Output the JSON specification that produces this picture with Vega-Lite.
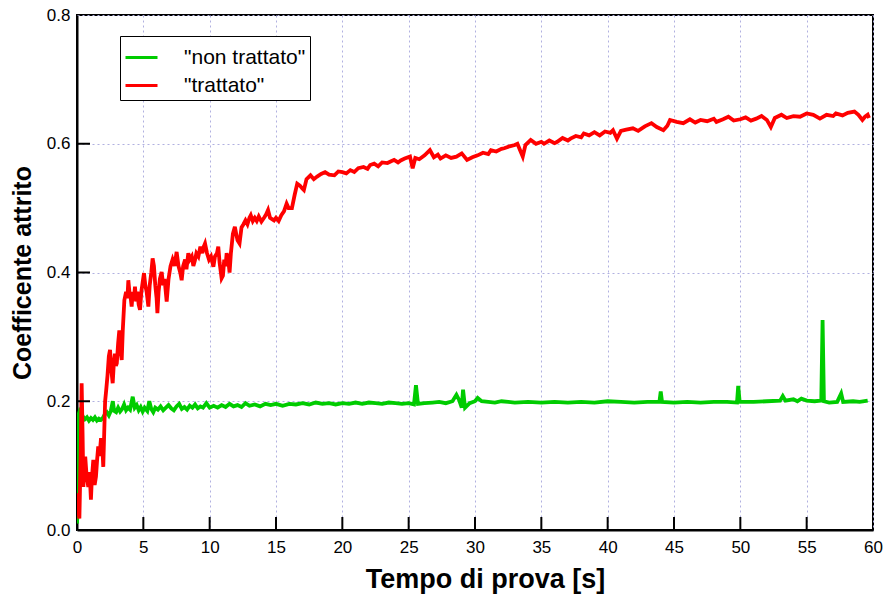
{
  "$schema": "https://vega.github.io/schema/vega-lite/v6.json",
  "autosize": {"type": "none"},
  "width": 796,
  "height": 515,
  "padding": {"left": 77, "top": 15, "right": 12, "bottom": 70},
  "background": "white",
  "config": {
    "font": "Liberation Sans",
    "view": {"stroke": "black", "strokeWidth": 2},
    "axis": {
      "domainColor": "black", "domainWidth": 2,
      "ticks": false, "tickSize": 0,
      "labelFont": "Liberation Sans", "labelFontSize": 17, "labelColor": "black",
      "titleFont": "Liberation Sans", "titleFontWeight": "bold", "titleColor": "black",
      "grid": true, "gridColor": "#b0b0e0", "gridDash": [2, 3], "gridWidth": 1
    }
  },
  "datasets": {
    "red": [
      {"t":0,"v":0.057},{"t":0.1,"v":0.03},{"t":0.18,"v":0.018},{"t":0.28,"v":0.12},{"t":0.35,"v":0.228},{"t":0.42,"v":0.15},{"t":0.48,"v":0.067},{"t":0.55,"v":0.1},{"t":0.62,"v":0.114},{"t":0.72,"v":0.085},{"t":0.85,"v":0.067},{"t":0.95,"v":0.09},{"t":1.05,"v":0.047},{"t":1.12,"v":0.08},{"t":1.23,"v":0.109},{"t":1.33,"v":0.07},{"t":1.43,"v":0.083},{"t":1.52,"v":0.11},{"t":1.6,"v":0.13},{"t":1.7,"v":0.115},{"t":1.8,"v":0.14},{"t":1.86,"v":0.14},{"t":1.93,"v":0.12},{"t":1.98,"v":0.098},{"t":2.05,"v":0.15},{"t":2.12,"v":0.2},{"t":2.2,"v":0.217},{"t":2.3,"v":0.24},{"t":2.4,"v":0.27},{"t":2.49,"v":0.28},{"t":2.58,"v":0.25},{"t":2.69,"v":0.228},{"t":2.78,"v":0.26},{"t":2.86,"v":0.274},{"t":2.93,"v":0.255},{"t":3.0,"v":0.259},{"t":3.1,"v":0.29},{"t":3.19,"v":0.31},{"t":3.28,"v":0.28},{"t":3.37,"v":0.264},{"t":3.45,"v":0.31},{"t":3.57,"v":0.357},{"t":3.7,"v":0.37},{"t":3.8,"v":0.36},{"t":3.87,"v":0.388},{"t":3.95,"v":0.37},{"t":4.05,"v":0.36},{"t":4.12,"v":0.347},{"t":4.2,"v":0.37},{"t":4.3,"v":0.36},{"t":4.37,"v":0.378},{"t":4.45,"v":0.355},{"t":4.55,"v":0.37},{"t":4.65,"v":0.35},{"t":4.75,"v":0.342},{"t":4.85,"v":0.37},{"t":4.95,"v":0.385},{"t":5.05,"v":0.399},{"t":5.15,"v":0.38},{"t":5.25,"v":0.37},{"t":5.38,"v":0.347},{"t":5.48,"v":0.38},{"t":5.6,"v":0.4},{"t":5.7,"v":0.422},{"t":5.8,"v":0.41},{"t":5.9,"v":0.38},{"t":6.0,"v":0.36},{"t":6.06,"v":0.337},{"t":6.15,"v":0.37},{"t":6.25,"v":0.39},{"t":6.38,"v":0.401},{"t":6.5,"v":0.38},{"t":6.6,"v":0.39},{"t":6.76,"v":0.355},{"t":6.9,"v":0.39},{"t":7.05,"v":0.41},{"t":7.2,"v":0.42},{"t":7.35,"v":0.41},{"t":7.51,"v":0.432},{"t":7.65,"v":0.41},{"t":7.78,"v":0.4},{"t":7.89,"v":0.388},{"t":8.0,"v":0.41},{"t":8.15,"v":0.42},{"t":8.25,"v":0.405},{"t":8.39,"v":0.43},{"t":8.5,"v":0.42},{"t":8.65,"v":0.425},{"t":8.77,"v":0.41},{"t":8.89,"v":0.419},{"t":9.0,"v":0.43},{"t":9.15,"v":0.425},{"t":9.3,"v":0.44},{"t":9.45,"v":0.43},{"t":9.55,"v":0.44},{"t":9.65,"v":0.445},{"t":9.8,"v":0.43},{"t":9.95,"v":0.42},{"t":10.1,"v":0.425},{"t":10.28,"v":0.409},{"t":10.4,"v":0.425},{"t":10.55,"v":0.43},{"t":10.65,"v":0.44},{"t":10.75,"v":0.415},{"t":10.9,"v":0.391},{"t":11.0,"v":0.395},{"t":11.1,"v":0.42},{"t":11.2,"v":0.41},{"t":11.28,"v":0.43},{"t":11.4,"v":0.42},{"t":11.5,"v":0.4},{"t":11.6,"v":0.43},{"t":11.75,"v":0.46},{"t":11.9,"v":0.471},{"t":12.0,"v":0.46},{"t":12.1,"v":0.45},{"t":12.25,"v":0.445},{"t":12.4,"v":0.47},{"t":12.55,"v":0.475},{"t":12.7,"v":0.481},{"t":12.85,"v":0.475},{"t":13.0,"v":0.485},{"t":13.1,"v":0.489},{"t":13.25,"v":0.48},{"t":13.4,"v":0.485},{"t":13.55,"v":0.48},{"t":13.7,"v":0.487},{"t":13.9,"v":0.479},{"t":14.1,"v":0.485},{"t":14.25,"v":0.49},{"t":14.4,"v":0.497},{"t":14.55,"v":0.485},{"t":14.7,"v":0.483},{"t":14.85,"v":0.481},{"t":15.0,"v":0.485},{"t":15.2,"v":0.48},{"t":15.4,"v":0.489},{"t":15.6,"v":0.495},{"t":15.8,"v":0.507},{"t":15.95,"v":0.5},{"t":16.2,"v":0.5},{"t":16.4,"v":0.52},{"t":16.6,"v":0.538},{"t":16.8,"v":0.535},{"t":17.0,"v":0.53},{"t":17.1,"v":0.528},{"t":17.3,"v":0.545},{"t":17.6,"v":0.551},{"t":17.85,"v":0.545},{"t":18.1,"v":0.549},{"t":18.4,"v":0.553},{"t":18.7,"v":0.556},{"t":19.0,"v":0.552},{"t":19.4,"v":0.551},{"t":19.7,"v":0.557},{"t":20.0,"v":0.556},{"t":20.3,"v":0.554},{"t":20.6,"v":0.559},{"t":20.9,"v":0.556},{"t":21.2,"v":0.562},{"t":21.6,"v":0.564},{"t":21.9,"v":0.561},{"t":22.1,"v":0.567},{"t":22.4,"v":0.569},{"t":22.7,"v":0.565},{"t":23.0,"v":0.571},{"t":23.4,"v":0.57},{"t":23.6,"v":0.572},{"t":23.9,"v":0.575},{"t":24.2,"v":0.571},{"t":24.4,"v":0.574},{"t":24.7,"v":0.577},{"t":25.1,"v":0.58},{"t":25.3,"v":0.562},{"t":25.5,"v":0.578},{"t":25.8,"v":0.576},{"t":26.2,"v":0.582},{"t":26.6,"v":0.59},{"t":26.9,"v":0.579},{"t":27.2,"v":0.583},{"t":27.4,"v":0.577},{"t":27.8,"v":0.582},{"t":28.2,"v":0.578},{"t":28.6,"v":0.58},{"t":29.0,"v":0.585},{"t":29.4,"v":0.575},{"t":29.8,"v":0.579},{"t":30.2,"v":0.582},{"t":30.6,"v":0.586},{"t":31.0,"v":0.584},{"t":31.2,"v":0.59},{"t":31.6,"v":0.588},{"t":32.0,"v":0.592},{"t":32.2,"v":0.593},{"t":32.6,"v":0.596},{"t":33.0,"v":0.598},{"t":33.2,"v":0.6},{"t":33.4,"v":0.59},{"t":33.6,"v":0.58},{"t":33.8,"v":0.598},{"t":34.2,"v":0.606},{"t":34.6,"v":0.6},{"t":35.0,"v":0.603},{"t":35.2,"v":0.6},{"t":35.6,"v":0.605},{"t":36.0,"v":0.601},{"t":36.2,"v":0.603},{"t":36.6,"v":0.609},{"t":37.0,"v":0.605},{"t":37.2,"v":0.608},{"t":37.6,"v":0.612},{"t":38.0,"v":0.61},{"t":38.2,"v":0.616},{"t":38.6,"v":0.613},{"t":39.0,"v":0.618},{"t":39.4,"v":0.613},{"t":39.8,"v":0.619},{"t":40.2,"v":0.617},{"t":40.4,"v":0.621},{"t":40.7,"v":0.608},{"t":41.0,"v":0.62},{"t":41.4,"v":0.622},{"t":41.9,"v":0.624},{"t":42.3,"v":0.62},{"t":42.8,"v":0.627},{"t":43.3,"v":0.632},{"t":43.7,"v":0.626},{"t":44.2,"v":0.621},{"t":44.5,"v":0.628},{"t":44.7,"v":0.637},{"t":45.2,"v":0.634},{"t":45.7,"v":0.632},{"t":46.2,"v":0.638},{"t":46.6,"v":0.633},{"t":47.0,"v":0.637},{"t":47.5,"v":0.635},{"t":48.0,"v":0.639},{"t":48.2,"v":0.634},{"t":48.7,"v":0.638},{"t":49.1,"v":0.642},{"t":49.5,"v":0.636},{"t":50.0,"v":0.638},{"t":50.4,"v":0.641},{"t":50.8,"v":0.636},{"t":51.2,"v":0.639},{"t":51.6,"v":0.643},{"t":52.0,"v":0.637},{"t":52.3,"v":0.626},{"t":52.6,"v":0.64},{"t":53.1,"v":0.645},{"t":53.5,"v":0.64},{"t":54.0,"v":0.643},{"t":54.5,"v":0.642},{"t":55.0,"v":0.647},{"t":55.5,"v":0.645},{"t":56.0,"v":0.639},{"t":56.5,"v":0.645},{"t":57.0,"v":0.643},{"t":57.2,"v":0.647},{"t":57.7,"v":0.644},{"t":58.1,"v":0.648},{"t":58.6,"v":0.65},{"t":58.9,"v":0.645},{"t":59.2,"v":0.637},{"t":59.4,"v":0.642},{"t":59.6,"v":0.645},{"t":59.7,"v":0.64}
    ],
    "green": [
      {"t":0,"v":0.01},{"t":0.08,"v":0.05},{"t":0.12,"v":0.18},{"t":0.2,"v":0.185},{"t":0.3,"v":0.182},{"t":0.45,"v":0.176},{"t":0.6,"v":0.172},{"t":0.75,"v":0.175},{"t":0.9,"v":0.17},{"t":1.05,"v":0.174},{"t":1.2,"v":0.171},{"t":1.35,"v":0.175},{"t":1.5,"v":0.17},{"t":1.65,"v":0.173},{"t":1.8,"v":0.171},{"t":1.95,"v":0.174},{"t":2.1,"v":0.18},{"t":2.25,"v":0.183},{"t":2.4,"v":0.178},{"t":2.55,"v":0.185},{"t":2.7,"v":0.2},{"t":2.8,"v":0.185},{"t":2.95,"v":0.183},{"t":3.1,"v":0.19},{"t":3.25,"v":0.184},{"t":3.4,"v":0.188},{"t":3.55,"v":0.195},{"t":3.7,"v":0.186},{"t":3.85,"v":0.19},{"t":4.0,"v":0.187},{"t":4.2,"v":0.207},{"t":4.35,"v":0.19},{"t":4.5,"v":0.194},{"t":4.65,"v":0.186},{"t":4.8,"v":0.191},{"t":4.95,"v":0.184},{"t":5.1,"v":0.19},{"t":5.3,"v":0.185},{"t":5.45,"v":0.2},{"t":5.6,"v":0.188},{"t":5.75,"v":0.183},{"t":5.9,"v":0.19},{"t":6.1,"v":0.187},{"t":6.3,"v":0.192},{"t":6.5,"v":0.186},{"t":6.7,"v":0.19},{"t":6.9,"v":0.194},{"t":7.1,"v":0.189},{"t":7.3,"v":0.186},{"t":7.5,"v":0.192},{"t":7.7,"v":0.196},{"t":7.9,"v":0.188},{"t":8.1,"v":0.191},{"t":8.3,"v":0.187},{"t":8.5,"v":0.193},{"t":8.7,"v":0.19},{"t":8.9,"v":0.195},{"t":9.1,"v":0.189},{"t":9.3,"v":0.192},{"t":9.5,"v":0.19},{"t":9.75,"v":0.197},{"t":10.0,"v":0.19},{"t":10.3,"v":0.193},{"t":10.6,"v":0.19},{"t":10.9,"v":0.194},{"t":11.2,"v":0.191},{"t":11.5,"v":0.196},{"t":11.8,"v":0.192},{"t":12.1,"v":0.194},{"t":12.4,"v":0.191},{"t":12.7,"v":0.197},{"t":13.0,"v":0.193},{"t":13.4,"v":0.195},{"t":13.8,"v":0.192},{"t":14.2,"v":0.196},{"t":14.6,"v":0.194},{"t":15.0,"v":0.196},{"t":15.5,"v":0.193},{"t":16.0,"v":0.196},{"t":16.5,"v":0.195},{"t":17.0,"v":0.197},{"t":17.5,"v":0.195},{"t":18.0,"v":0.198},{"t":18.5,"v":0.196},{"t":19.0,"v":0.197},{"t":19.5,"v":0.195},{"t":20.0,"v":0.197},{"t":20.5,"v":0.196},{"t":21.0,"v":0.198},{"t":21.5,"v":0.196},{"t":22.0,"v":0.198},{"t":22.5,"v":0.197},{"t":23.0,"v":0.196},{"t":23.5,"v":0.198},{"t":24.0,"v":0.197},{"t":24.5,"v":0.196},{"t":25.0,"v":0.197},{"t":25.4,"v":0.195},{"t":25.55,"v":0.225},{"t":25.7,"v":0.196},{"t":26.2,"v":0.197},{"t":26.8,"v":0.198},{"t":27.3,"v":0.199},{"t":27.8,"v":0.197},{"t":28.3,"v":0.2},{"t":28.6,"v":0.21},{"t":28.8,"v":0.202},{"t":29.0,"v":0.19},{"t":29.1,"v":0.218},{"t":29.25,"v":0.19},{"t":29.6,"v":0.197},{"t":30.0,"v":0.2},{"t":30.2,"v":0.205},{"t":30.5,"v":0.2},{"t":31.0,"v":0.199},{"t":31.5,"v":0.198},{"t":32.0,"v":0.2},{"t":32.5,"v":0.199},{"t":33.0,"v":0.198},{"t":34.0,"v":0.199},{"t":35.0,"v":0.198},{"t":36.0,"v":0.199},{"t":37.0,"v":0.198},{"t":38.0,"v":0.199},{"t":39.0,"v":0.198},{"t":40.0,"v":0.2},{"t":41.0,"v":0.199},{"t":42.0,"v":0.198},{"t":43.0,"v":0.199},{"t":43.9,"v":0.199},{"t":44.0,"v":0.215},{"t":44.1,"v":0.199},{"t":45.0,"v":0.198},{"t":46.0,"v":0.199},{"t":47.0,"v":0.198},{"t":48.0,"v":0.199},{"t":49.0,"v":0.199},{"t":49.75,"v":0.198},{"t":49.84,"v":0.224},{"t":49.95,"v":0.199},{"t":51.0,"v":0.199},{"t":52.0,"v":0.2},{"t":53.0,"v":0.201},{"t":53.2,"v":0.208},{"t":53.4,"v":0.201},{"t":54.0,"v":0.203},{"t":54.3,"v":0.2},{"t":54.6,"v":0.204},{"t":55.0,"v":0.201},{"t":55.6,"v":0.2},{"t":56.1,"v":0.201},{"t":56.2,"v":0.326},{"t":56.3,"v":0.2},{"t":56.7,"v":0.198},{"t":57.3,"v":0.199},{"t":57.6,"v":0.212},{"t":57.75,"v":0.199},{"t":58.5,"v":0.2},{"t":59.0,"v":0.199},{"t":59.6,"v":0.201}
    ],
    "xticks": [{"t":5},{"t":10},{"t":15},{"t":20},{"t":25},{"t":30},{"t":35},{"t":40},{"t":45},{"t":50},{"t":55}],
    "yticks": [{"v":0.2},{"v":0.4},{"v":0.6}]
  },
  "layer": [
    {
      "data": {"name": "green"},
      "mark": {"type": "line", "strokeWidth": 3.8, "clip": true},
      "encoding": {
        "x": {
          "field": "t", "type": "quantitative",
          "scale": {"domain": [0, 60], "nice": false, "zero": false},
          "axis": {"title": "Tempo di prova [s]", "titleFontSize": 27, "titleX": 408, "values": [0,5,10,15,20,25,30,35,40,45,50,55,60], "labelPadding": 9, "titlePadding": 11, "labelFlush": false}
        },
        "y": {
          "field": "v", "type": "quantitative",
          "scale": {"domain": [0, 0.8], "nice": false},
          "axis": {"title": "Coefficente attrito", "titleFontSize": 25, "values": [0,0.2,0.4,0.6,0.8], "format": ".1f", "labelPadding": 7, "titlePadding": 11, "labelFlush": false}
        },
        "color": {
          "datum": "\"non trattato\"", "type": "nominal",
          "scale": {"domain": ["\"non trattato\"", "\"trattato\""], "range": ["#00cc00", "#ff0000"]},
          "legend": {
            "title": null, "orient": "none", "legendX": 43, "legendY": 21,
            "direction": "vertical",
            "strokeColor": "black", "fillColor": "white",
            "padding": 4, "rowPadding": 0,
            "symbolType": "stroke", "symbolSize": 1024, "symbolStrokeWidth": 3,
            "labelFont": "Liberation Sans", "labelFontSize": 21, "labelColor": "black",
            "labelOffset": 25, "labelLimit": 300
          }
        }
      }
    },
    {
      "data": {"name": "red"},
      "mark": {"type": "line", "strokeWidth": 3.8, "clip": true},
      "encoding": {
        "x": {"field": "t", "type": "quantitative"},
        "y": {"field": "v", "type": "quantitative"},
        "color": {"datum": "\"trattato\"", "type": "nominal"}
      }
    },
    {
      "data": {"name": "xticks"},
      "mark": {"type": "rule", "color": "black", "strokeWidth": 2},
      "encoding": {
        "x": {"field": "t", "type": "quantitative"},
        "y": {"datum": 0, "type": "quantitative"},
        "y2": {"datum": 0.0202}
      }
    },
    {
      "data": {"name": "yticks"},
      "mark": {"type": "rule", "color": "black", "strokeWidth": 2},
      "encoding": {
        "y": {"field": "v", "type": "quantitative"},
        "x": {"datum": 0, "type": "quantitative"},
        "x2": {"datum": 0.98}
      }
    }
  ]
}
